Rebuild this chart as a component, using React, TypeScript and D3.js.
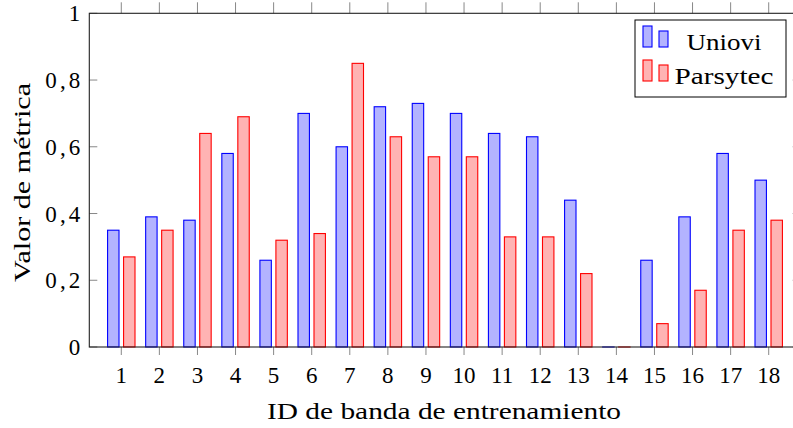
import React from "react";
import * as d3 from "d3";

const categories = [1, 2, 3, 4, 5, 6, 7, 8, 9, 10, 11, 12, 13, 14, 15, 16, 17, 18];
const uniovi = [0.35, 0.39, 0.38, 0.58, 0.26, 0.70, 0.60, 0.72, 0.73, 0.70, 0.64, 0.63, 0.44, 0.0, 0.26, 0.39, 0.58, 0.50];
const parsytec = [0.27, 0.35, 0.64, 0.69, 0.32, 0.34, 0.85, 0.63, 0.57, 0.57, 0.33, 0.33, 0.22, 0.0, 0.07, 0.17, 0.35, 0.38];
const yTicks = [0, 0.2, 0.4, 0.6, 0.8, 1];
const seriesNames = ["Uniovi", "Parsytec"];
const xLabel = "ID de banda de entrenamiento";
const yLabel = "Valor de métrica";

const W = 793;
const H = 428;
const left = 89.3;
const right = 800.7;
const top = 13.3;
const bottom = 347;
const FONT = "Liberation Serif, Times New Roman, Times, DejaVu Serif, serif";

const styles = [
  { fill: "rgb(179,179,255)", stroke: "rgb(0,0,255)" },
  { fill: "rgb(255,179,179)", stroke: "rgb(255,0,0)" },
];

export default function App() {
  const x = d3.scalePoint<number>().domain(categories).range([left, right]).padding(0.84);
  const y = d3.scaleLinear().domain([0, 1]).range([bottom, top]);
  const step = x.step();
  const bw = step * 0.3;
  const off = step * 0.21;
  const fmt = (v: number) => (v === 0 || v === 1 ? String(v) : d3.format(".1f")(v).replace(".", ","));
  const series = [uniovi, parsytec];
  const tickLen = 8;
  const tickColor = "#888";

  return (
    <svg width={W} height={H} style={{ position: "fixed", left: 0, top: 0, background: "#fff" }} fontFamily={FONT} fontSize={23}>
      <rect x={0} y={0} width={W} height={H} fill="#fff" />
      {series.map((vals, si) =>
        vals.map((v, i) => {
          const cx = (x(categories[i]) as number) + (si === 0 ? -off : off);
          const h = Math.max(y(0) - y(v), 0.01);
          return (
            <rect
              key={si + "-" + i}
              x={cx - bw / 2}
              y={y(0) - h}
              width={bw}
              height={h}
              fill={styles[si].fill}
              stroke={styles[si].stroke}
              strokeWidth={1.1}
            />
          );
        })
      )}
      {yTicks.map((t) => {
        const label = fmt(t);
        return (
          <g key={"y" + t}>
            <line x1={left} x2={left + tickLen} y1={y(t)} y2={y(t)} stroke={tickColor} strokeWidth={1} />
            <line x1={right} x2={right - tickLen} y1={y(t)} y2={y(t)} stroke={tickColor} strokeWidth={1} />
            <text
              x={left - 9}
              y={y(t) + 8}
              textAnchor="end"
              fill="#000"
              {...(label.length > 1 ? { textLength: 35, lengthAdjust: "spacing" } : {})}
            >
              {label}
            </text>
          </g>
        );
      })}
      {categories.map((c) => (
        <g key={"x" + c}>
          <line x1={x(c)} x2={x(c)} y1={bottom} y2={bottom + tickLen} stroke={tickColor} strokeWidth={1} />
          <line x1={x(c)} x2={x(c)} y1={top} y2={top - tickLen - 3} stroke={tickColor} strokeWidth={1} />
          <text x={x(c)} y={383} textAnchor="middle" fill="#000">
            {c}
          </text>
        </g>
      ))}
      <rect x={left} y={top} width={right - left} height={bottom - top} fill="none" stroke="#222" strokeWidth={1.1} />
      <text x={267} y={419} fill="#000" textLength={354} lengthAdjust="spacingAndGlyphs">
        {xLabel}
      </text>
      <text transform={`translate(30, 282) rotate(-90)`} fill="#000" textLength={199} lengthAdjust="spacingAndGlyphs">
        {yLabel}
      </text>
      <g>
        <rect x={635} y={20} width={151} height={77} fill="#fff" stroke="#000" strokeWidth={1} />
        {seriesNames.map((n, i) => {
          const base = 47 + i * 34;
          const tw = i === 0 ? 75 : 99;
          return (
            <g key={n}>
              <rect x={643} y={base - 21} width={9} height={21} fill={styles[i].fill} stroke={styles[i].stroke} strokeWidth={1.1} />
              <rect x={659} y={base - 16} width={9} height={16} fill={styles[i].fill} stroke={styles[i].stroke} strokeWidth={1.1} />
              <text x={724 - tw / 2} y={base + 3} fill="#000" textLength={tw} lengthAdjust="spacingAndGlyphs">
                {n}
              </text>
            </g>
          );
        })}
      </g>
    </svg>
  );
}
